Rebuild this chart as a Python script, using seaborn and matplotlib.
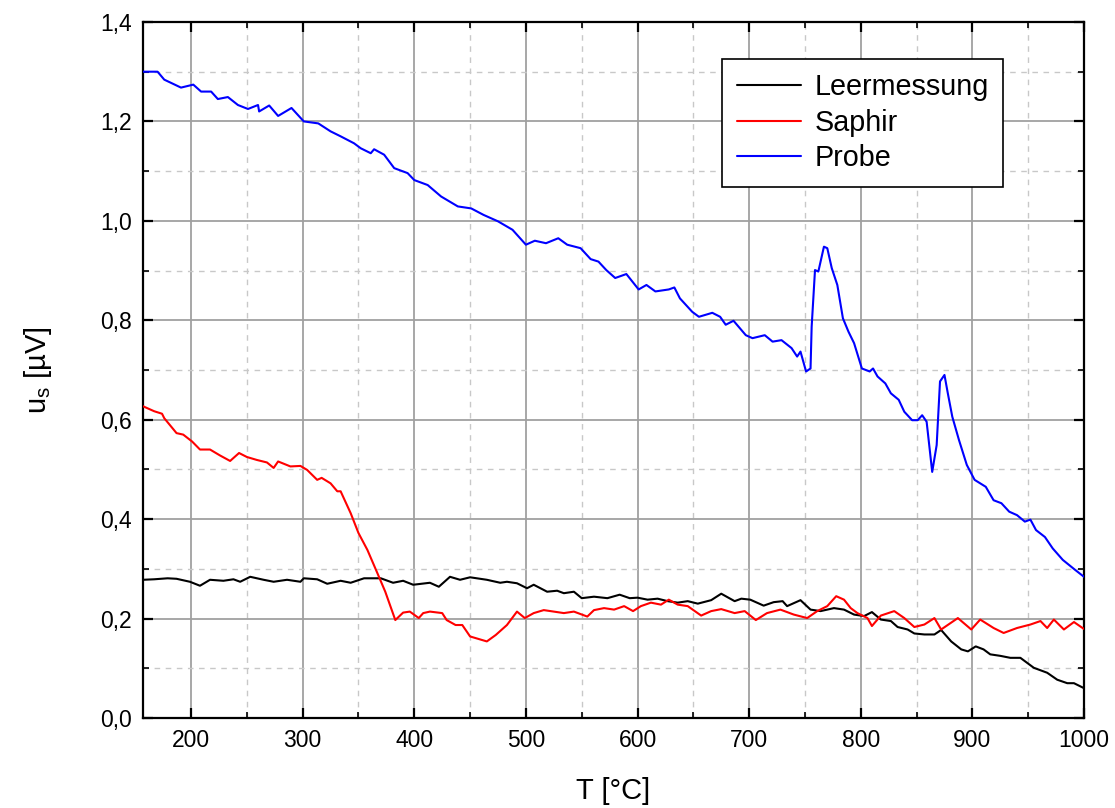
import numpy as np
import pandas as pd
import matplotlib
matplotlib.use("Agg")
import matplotlib.pyplot as plt
import seaborn as sns
from matplotlib.ticker import MultipleLocator, FuncFormatter

# ---- data ----
probe_T = [157, 170, 176, 191, 202, 209, 218, 224, 233, 242, 251, 260, 261, 270, 278, 290, 301,
           314, 325, 334, 346, 352, 361, 364, 373, 382, 394, 400, 412, 424, 439, 451, 462, 475,
           488, 500, 508, 518, 529, 537, 549, 558, 565, 572, 580, 590, 601, 608, 616, 628, 633,
           638, 649, 655, 667, 674, 679, 686, 697, 703, 714, 721, 729, 738, 743, 746, 751, 755,
           756, 759, 762, 767, 770, 774, 779, 784, 789, 794, 801, 808, 811, 815, 822, 827, 834,
           839, 846, 851, 855, 859, 864, 868, 871, 875, 878, 882, 888, 895, 902, 912, 919, 926,
           933, 940, 947, 952, 957, 965, 972, 981, 992, 1000]
probe_u = [1.300, 1.300, 1.284, 1.268, 1.274, 1.260, 1.260, 1.245, 1.249, 1.233, 1.225, 1.233,
           1.220, 1.232, 1.211, 1.227, 1.200, 1.196, 1.180, 1.170, 1.156, 1.146, 1.136, 1.144,
           1.133, 1.106, 1.096, 1.082, 1.072, 1.049, 1.029, 1.025, 1.012, 0.999, 0.982, 0.952,
           0.960, 0.955, 0.965, 0.952, 0.945, 0.923, 0.918, 0.901, 0.885, 0.893, 0.862, 0.871,
           0.858, 0.862, 0.866, 0.844, 0.817, 0.807, 0.815, 0.807, 0.791, 0.799, 0.770, 0.764,
           0.770, 0.757, 0.760, 0.744, 0.727, 0.737, 0.697, 0.703, 0.787, 0.901, 0.898, 0.948,
           0.945, 0.905, 0.871, 0.804, 0.777, 0.754, 0.703, 0.697, 0.703, 0.687, 0.673, 0.653,
           0.640, 0.616, 0.599, 0.599, 0.609, 0.596, 0.495, 0.549, 0.677, 0.690, 0.653, 0.606,
           0.559, 0.509, 0.479, 0.465, 0.438, 0.432, 0.415, 0.408, 0.395, 0.399, 0.378, 0.364,
           0.341, 0.318, 0.298, 0.284]

saphir_T = [157, 167, 174, 176, 187, 193, 201, 208, 217, 226, 235, 243, 250, 259, 268, 274, 278,
            289, 298, 304, 313, 317, 325, 331, 334, 343, 350, 358, 367, 374, 383, 390, 396, 404,
            408, 414, 425, 429, 437, 443, 450, 456, 465, 473, 483, 492, 499, 507, 516, 525, 534,
            543, 555, 561, 570, 579, 588, 596, 603, 612, 621, 628, 636, 645, 657, 666, 675, 687,
            696, 706, 716, 728, 740, 752, 761, 770, 778, 785, 791, 797, 806, 810, 818, 830, 839,
            848, 857, 866, 872, 887, 899, 907, 919, 928, 940, 952, 961, 967, 973, 982, 991, 1000]
saphir_u = [0.627, 0.617, 0.612, 0.603, 0.573, 0.570, 0.556, 0.540, 0.540, 0.528, 0.517, 0.533,
            0.525, 0.519, 0.514, 0.503, 0.516, 0.506, 0.507, 0.499, 0.479, 0.483, 0.472, 0.456,
            0.456, 0.412, 0.372, 0.338, 0.291, 0.254, 0.197, 0.212, 0.214, 0.201, 0.211, 0.214,
            0.211, 0.197, 0.187, 0.187, 0.164, 0.160, 0.154, 0.167, 0.187, 0.214, 0.201, 0.211,
            0.217, 0.214, 0.211, 0.214, 0.204, 0.217, 0.221, 0.218, 0.225, 0.215, 0.225, 0.232,
            0.228, 0.238, 0.228, 0.225, 0.206, 0.215, 0.219, 0.211, 0.215, 0.197, 0.211, 0.218,
            0.208, 0.201, 0.215, 0.225, 0.245, 0.238, 0.221, 0.211, 0.201, 0.185, 0.206, 0.215,
            0.201, 0.183, 0.188, 0.201, 0.178, 0.201, 0.178, 0.198, 0.181, 0.171, 0.181, 0.188,
            0.195, 0.181, 0.198, 0.178, 0.193, 0.179]

leer_T = [157, 167, 179, 187, 199, 208, 217, 229, 238, 244, 253, 265, 274, 286, 298, 301, 313,
          322, 334, 343, 355, 370, 381, 390, 399, 414, 422, 432, 441, 450, 465, 477, 483, 492,
          501, 507, 519, 528, 534, 543, 550, 561, 573, 584, 593, 600, 609, 618, 627, 636, 645,
          654, 666, 675, 687, 693, 701, 713, 722, 730, 734, 746, 755, 764, 776, 785, 794, 803,
          810, 818, 827, 833, 842, 848, 857, 866, 872, 881, 890, 896, 903, 910, 916, 925, 934,
          943, 955, 967, 976, 985, 991, 1000]
leer_u = [0.278, 0.279, 0.281, 0.280, 0.274, 0.266, 0.278, 0.276, 0.279, 0.274, 0.284, 0.278,
          0.274, 0.278, 0.274, 0.281, 0.279, 0.270, 0.276, 0.272, 0.281, 0.281, 0.272, 0.276,
          0.268, 0.272, 0.264, 0.284, 0.278, 0.283, 0.278, 0.272, 0.274, 0.271, 0.261, 0.268,
          0.254, 0.256, 0.251, 0.254, 0.241, 0.244, 0.241, 0.248, 0.241, 0.242, 0.238, 0.240,
          0.235, 0.232, 0.235, 0.230, 0.237, 0.250, 0.235, 0.240, 0.238, 0.226, 0.233, 0.235,
          0.225, 0.237, 0.218, 0.215, 0.221, 0.218, 0.208, 0.205, 0.213, 0.198, 0.195, 0.183,
          0.178, 0.170, 0.168, 0.168, 0.177, 0.154, 0.138, 0.134, 0.144, 0.138, 0.128, 0.125,
          0.121, 0.121, 0.101, 0.091, 0.077, 0.070, 0.070, 0.060]

series_names = ["Leermessung", "Saphir", "Probe"]
series_colors = ["#000000", "#ff0000", "#0000ff"]

x_ticks = [200, 300, 400, 500, 600, 700, 800, 900, 1000]
y_ticks = [0.0, 0.2, 0.4, 0.6, 0.8, 1.0, 1.2, 1.4]

df = pd.concat([
    pd.DataFrame({"T": leer_T, "u": leer_u, "Serie": series_names[0]}),
    pd.DataFrame({"T": saphir_T, "u": saphir_u, "Serie": series_names[1]}),
    pd.DataFrame({"T": probe_T, "u": probe_u, "Serie": series_names[2]}),
], ignore_index=True)

# ---- style ----
sns.set_style("ticks")
plt.rcParams["font.family"] = ["Liberation Sans", "DejaVu Sans"]
plt.rcParams["mathtext.default"] = "regular"
plt.rcParams["text.color"] = "black"
plt.rcParams["axes.labelcolor"] = "black"
plt.rcParams["xtick.color"] = "black"
plt.rcParams["ytick.color"] = "black"
plt.rcParams["xtick.labelcolor"] = "black"
plt.rcParams["ytick.labelcolor"] = "black"

fig = plt.figure(figsize=(11.15, 8.08), dpi=100)
ax = fig.add_axes([0.1283, 0.1114, 0.9722 - 0.1283, 0.9728 - 0.1114])

sns.lineplot(data=df, x="T", y="u", hue="Serie", hue_order=series_names,
             palette=dict(zip(series_names, series_colors)),
             estimator=None, sort=False, linewidth=1.5, ax=ax, zorder=3)

ax.set_xlim(157, 1000)
ax.set_ylim(0.0, 1.4)
ax.set_xticks(x_ticks)
ax.set_yticks(y_ticks)
ax.xaxis.set_minor_locator(MultipleLocator(50))
ax.yaxis.set_minor_locator(MultipleLocator(0.1))
ax.yaxis.set_major_formatter(FuncFormatter(lambda v, p: f"{v:.1f}".replace(".", ",")))
ax.xaxis.set_major_formatter(FuncFormatter(lambda v, p: f"{int(round(v))}"))

ax.grid(which="major", color="#a0a0a0", linestyle="-", linewidth=1.3, zorder=0)
ax.grid(which="minor", color="#c8c8c8", linestyle=(0, (4, 4)), linewidth=1.0, zorder=0)
ax.set_axisbelow(True)

for s in ax.spines.values():
    s.set_visible(True)
    s.set_color("black")
    s.set_linewidth(1.6)

ax.tick_params(which="both", direction="in", top=True, right=True, colors="black",
               labelcolor="black")
ax.tick_params(which="major", length=7, width=1.6, labelsize=16.5, pad=8)
ax.tick_params(which="minor", length=4, width=1.2)

ax.set_xlabel("T [°C]", fontsize=21, labelpad=18, color="black")
ax.set_ylabel("u$_{s}$ [µV]", fontsize=21, labelpad=33, color="black")

leg = ax.legend(loc="upper right", bbox_to_anchor=(0.914, 0.947), borderaxespad=0,
                fontsize=20.7, frameon=True, fancybox=False, handlelength=2.25,
                labelspacing=0.26, borderpad=0.5, handletextpad=0.45)
leg.get_frame().set_edgecolor("black")
leg.get_frame().set_linewidth(1.2)
leg.get_frame().set_alpha(1)
for t in leg.get_texts():
    t.set_color("black")
for line in leg.get_lines():
    line.set_linewidth(1.5)

fig.savefig("out.png", dpi=100)
